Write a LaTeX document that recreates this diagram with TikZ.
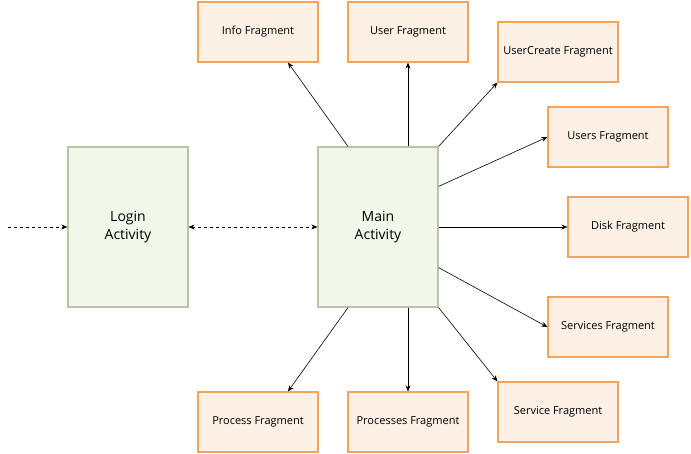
\documentclass[tikz,border=0pt]{standalone}
\usepackage{fontspec}
\setmainfont{Open Sans}
\usetikzlibrary{arrows.meta}
\definecolor{actfill}{HTML}{F1F8E9}
\definecolor{actline}{HTML}{B9C4A4}
\definecolor{fragfill}{HTML}{FDF1E6}
\definecolor{fragline}{HTML}{F5A35A}
\begin{document}
\begin{tikzpicture}[x=1pt,y=-1pt,
  act/.style={draw=actline,fill=actfill,line width=1.2pt,minimum width=120pt,minimum height=160pt,inner sep=0pt,align=center,font=\fontsize{14}{18}\selectfont},
  frag/.style={draw=fragline,fill=fragfill,line width=1.2pt,minimum width=120pt,minimum height=60pt,inner sep=0pt,font=\fontsize{11}{13}\selectfont},
  arr/.style={-{Stealth[length=6pt,width=5pt]},line width=0.6pt},
  darr/.style={arr,dashed}]
\useasboundingbox (0,0) rectangle (691,454);
\node[act] (login) at (128,227) {Login\\Activity};
\node[act] (main) at (378,227) {Main\\Activity};
\node[frag] (info) at (258,32) {Info Fragment};
\node[frag] (user) at (408,32) {User Fragment};
\node[frag] (ucreate) at (558,52) {UserCreate Fragment};
\node[frag] (users) at (608,137) {Users Fragment};
\node[frag] (disk) at (628,227) {Disk Fragment};
\node[frag] (services) at (608,327) {Services Fragment};
\node[frag] (service) at (558,412) {Service Fragment};
\node[frag] (processes) at (408,422) {Processes Fragment};
\node[frag] (process) at (258,422) {Process Fragment};
\coordinate (start) at (8,227);
\draw[darr] (start) -- (login.west);
\draw[darr,{Stealth[length=6pt,width=5pt]}-{Stealth[length=6pt,width=5pt]}] (login.east) -- (main.west);
\draw[arr] ([xshift=-30pt]main.north) -- ([xshift=30pt]info.south);
\draw[arr] ([xshift=30pt]main.north) -- (user.south);
\draw[arr] (main.north east) -- (ucreate.south west);
\draw[arr] ([yshift=-40pt]main.north east) -- (users.west);
\draw[arr] (main.east) -- (disk.west);
\draw[arr] ([yshift=40pt]main.south east) -- (services.west);
\draw[arr] (main.south east) -- (service.north west);
\draw[arr] ([xshift=30pt]main.south) -- (processes.north);
\draw[arr] ([xshift=-30pt]main.south) -- ([xshift=30pt]process.north);
\end{tikzpicture}
\end{document}
